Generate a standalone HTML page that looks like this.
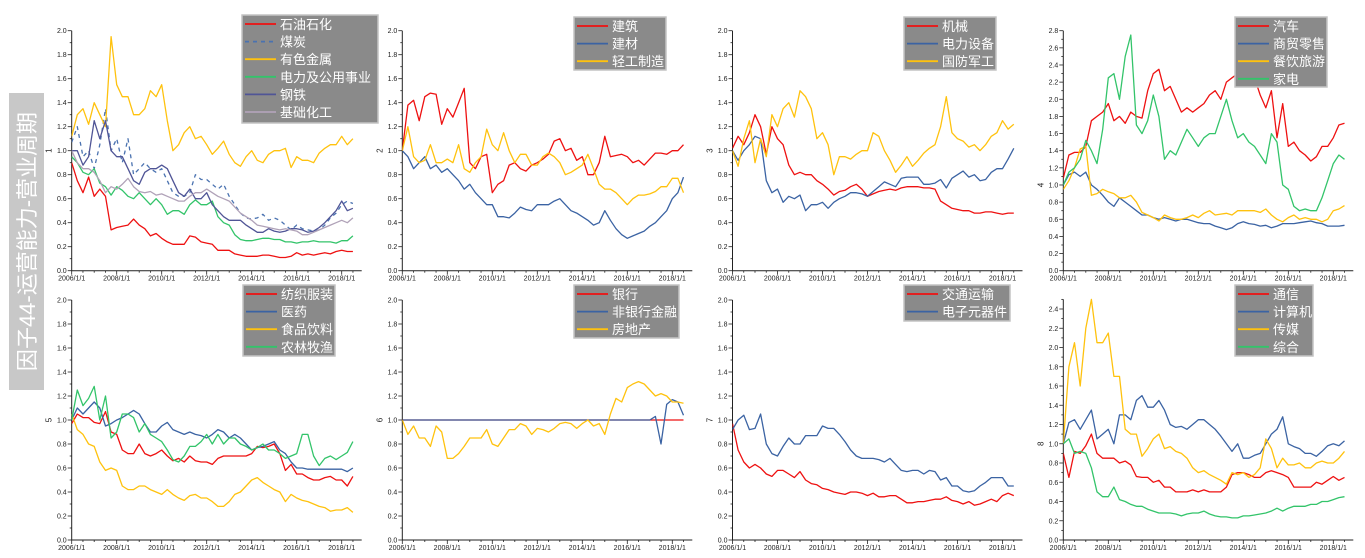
<!DOCTYPE html>
<html><head><meta charset="utf-8">
<style>
html,body{margin:0;padding:0;background:#fff;width:1365px;height:558px;overflow:hidden}
svg{display:block}
text{font-family:"Liberation Sans","Noto Sans CJK SC",sans-serif}
</style></head>
<body>
<svg id="chart" width="1365" height="558" viewBox="0 0 1365 558" xmlns="http://www.w3.org/2000/svg">
<rect x="9" y="93" width="35" height="297" fill="#c8c8c8"/>
<text x="0" y="0" transform="translate(35,241.5) rotate(-90)" text-anchor="middle" font-size="22" fill="#fff" font-family="Liberation Sans, Noto Sans CJK SC, sans-serif">因子44-运营能力-营业周期</text>
</svg>
<script>
// time axis: quarterly samples from 2006.0 to 2018.5
const startYear = 2006, stepYear = 0.25;
const xTickLabels = ["2006/1/1","2008/1/1","2010/1/1","2012/1/1","2014/1/1","2016/1/1","2018/1/1"];
const xTickYears = [2006,2008,2010,2012,2014,2016,2018];
const panelNames = ["1","2","3","4","5","6","7","8"];
const panelYMax = [2,2,2,2.8,2,2,2,2.5];

// Panel 1
const p1_oil = [0.9,0.75,0.65,0.78,0.62,0.68,0.62,0.34,0.36,0.37,0.38,0.43,0.38,0.35,0.29,0.31,0.27,0.24,0.22,0.22,0.22,0.29,0.28,0.24,0.23,0.22,0.17,0.17,0.17,0.14,0.13,0.12,0.12,0.12,0.13,0.13,0.12,0.11,0.11,0.12,0.15,0.13,0.14,0.13,0.14,0.15,0.14,0.16,0.17,0.16,0.16];
const p1_coal = [1.07,1.2,0.95,1.0,0.85,1.05,1.35,1.0,1.1,0.9,1.1,0.8,0.85,0.9,0.85,0.82,0.85,0.75,0.65,0.62,0.62,0.65,0.8,0.76,0.76,0.72,0.68,0.72,0.62,0.55,0.48,0.44,0.43,0.44,0.47,0.42,0.44,0.42,0.38,0.34,0.38,0.35,0.34,0.33,0.34,0.38,0.44,0.48,0.55,0.58,0.56];
const p1_metal = [1.12,1.3,1.35,1.22,1.4,1.3,1.2,1.95,1.55,1.45,1.45,1.3,1.3,1.35,1.5,1.45,1.55,1.25,1.0,1.05,1.15,1.2,1.1,1.12,1.05,0.97,1.02,1.08,0.97,0.9,0.87,0.95,1.0,0.92,0.9,0.97,1.0,1.0,1.02,0.86,0.95,0.92,0.92,0.9,0.98,1.02,1.05,1.05,1.12,1.05,1.1];
const p1_power = [0.95,0.9,0.82,0.8,0.85,0.73,0.7,0.63,0.7,0.67,0.62,0.6,0.65,0.6,0.55,0.6,0.55,0.47,0.5,0.5,0.47,0.55,0.59,0.55,0.55,0.58,0.45,0.4,0.38,0.3,0.26,0.25,0.25,0.26,0.27,0.27,0.26,0.26,0.24,0.24,0.23,0.24,0.24,0.25,0.24,0.24,0.24,0.23,0.25,0.25,0.29];
const p1_steel = [1.0,1.0,0.88,0.95,1.25,1.1,1.25,1.0,0.95,0.95,0.85,0.75,0.72,0.82,0.85,0.85,0.88,0.85,0.75,0.65,0.62,0.68,0.6,0.6,0.65,0.55,0.5,0.45,0.42,0.42,0.42,0.38,0.35,0.32,0.32,0.35,0.33,0.32,0.33,0.35,0.35,0.34,0.32,0.33,0.36,0.4,0.45,0.5,0.58,0.5,0.52];
const p1_chem = [1.0,0.9,0.85,0.85,0.82,0.75,0.65,0.7,0.68,0.72,0.77,0.7,0.66,0.65,0.66,0.63,0.64,0.62,0.6,0.58,0.58,0.62,0.65,0.65,0.68,0.65,0.62,0.6,0.58,0.53,0.48,0.45,0.42,0.38,0.37,0.36,0.35,0.34,0.35,0.34,0.33,0.3,0.3,0.32,0.34,0.36,0.38,0.4,0.42,0.4,0.44];
// Panel 2
const p2_build = [1.0,1.38,1.42,1.25,1.45,1.48,1.47,1.22,1.35,1.28,1.4,1.52,0.9,0.85,0.95,0.97,0.65,0.72,0.75,0.88,0.9,0.85,0.83,0.88,0.9,0.93,0.97,1.08,1.1,1.0,1.02,0.92,0.95,0.8,0.8,0.9,1.12,0.95,0.96,0.97,0.95,0.9,0.92,0.88,0.93,0.98,0.98,0.97,1.0,1.0,1.05];
const p2_mat = [1.0,0.95,0.85,0.9,0.95,0.85,0.88,0.82,0.85,0.8,0.75,0.68,0.72,0.65,0.6,0.55,0.55,0.45,0.45,0.44,0.48,0.53,0.51,0.5,0.55,0.55,0.55,0.58,0.6,0.55,0.5,0.48,0.45,0.42,0.38,0.4,0.5,0.42,0.35,0.3,0.27,0.29,0.31,0.33,0.37,0.4,0.45,0.5,0.6,0.65,0.78];
const p2_light = [1.0,1.2,0.95,0.9,0.92,1.05,0.9,0.9,0.93,0.9,1.05,0.85,0.82,0.9,0.95,1.18,1.05,1.0,1.15,1.0,0.9,0.97,0.97,0.88,0.88,0.95,0.98,0.95,0.9,0.8,0.82,0.85,0.88,0.97,0.85,0.72,0.68,0.68,0.65,0.6,0.55,0.6,0.63,0.63,0.64,0.66,0.7,0.7,0.77,0.77,0.65];
// Panel 3
const p3_mach = [1.02,1.12,1.05,1.15,1.3,1.2,0.97,1.2,1.1,1.05,0.88,0.8,0.82,0.8,0.8,0.75,0.72,0.68,0.63,0.66,0.67,0.7,0.72,0.68,0.62,0.64,0.66,0.67,0.68,0.67,0.69,0.7,0.7,0.7,0.69,0.69,0.68,0.58,0.55,0.52,0.51,0.5,0.5,0.48,0.48,0.49,0.49,0.48,0.47,0.48,0.48];
const p3_elec = [1.0,0.92,1.0,1.05,1.12,1.1,0.75,0.65,0.68,0.57,0.62,0.6,0.63,0.5,0.55,0.55,0.57,0.52,0.57,0.6,0.62,0.65,0.65,0.64,0.62,0.66,0.7,0.74,0.72,0.7,0.77,0.78,0.78,0.78,0.72,0.72,0.73,0.76,0.69,0.77,0.8,0.83,0.78,0.8,0.75,0.76,0.82,0.85,0.85,0.93,1.02];
const p3_def = [1.0,0.87,1.1,1.25,0.9,1.1,0.95,1.3,1.2,1.35,1.4,1.28,1.5,1.45,1.35,1.1,1.15,1.05,0.8,0.95,0.95,0.93,0.97,1.0,1.0,1.15,1.12,1.0,0.92,0.82,0.88,0.95,0.87,0.92,0.98,1.02,1.05,1.2,1.45,1.15,1.1,1.08,1.03,1.05,1.0,1.05,1.12,1.15,1.25,1.18,1.22];
// Panel 4
const p4_auto = [1.08,1.35,1.38,1.38,1.45,1.75,1.8,1.85,1.95,1.75,1.8,1.72,1.85,1.8,1.78,2.1,2.3,2.35,2.1,2.15,2.0,1.85,1.9,1.85,1.9,1.95,2.05,2.1,2.0,2.2,2.25,2.3,2.4,2.3,2.25,2.05,1.9,2.1,1.55,1.95,1.45,1.5,1.4,1.35,1.28,1.33,1.45,1.45,1.55,1.7,1.72];
const p4_retail = [1.0,1.12,1.15,1.1,1.15,1.0,0.95,0.88,0.8,0.75,0.85,0.8,0.75,0.7,0.65,0.65,0.62,0.6,0.62,0.6,0.58,0.6,0.6,0.58,0.56,0.55,0.55,0.52,0.5,0.48,0.5,0.55,0.57,0.55,0.54,0.52,0.53,0.5,0.52,0.55,0.55,0.55,0.56,0.57,0.58,0.56,0.55,0.52,0.52,0.52,0.53];
const p4_travel = [0.95,1.05,1.2,1.42,1.45,0.88,0.9,0.95,0.92,0.9,0.85,0.85,0.88,0.8,0.68,0.65,0.62,0.58,0.65,0.62,0.6,0.6,0.62,0.65,0.62,0.67,0.7,0.65,0.66,0.67,0.65,0.7,0.7,0.7,0.7,0.68,0.72,0.65,0.6,0.57,0.62,0.65,0.6,0.62,0.6,0.6,0.57,0.6,0.7,0.72,0.76];
const p4_appl = [1.0,1.15,1.2,1.3,1.52,1.4,1.25,1.65,2.25,2.3,2.0,2.5,2.75,1.7,1.6,1.75,2.05,1.8,1.3,1.4,1.35,1.5,1.65,1.55,1.45,1.55,1.6,1.6,1.8,2.0,1.75,1.55,1.6,1.5,1.45,1.35,1.25,1.6,1.5,1.0,0.95,0.75,0.7,0.72,0.7,0.7,0.85,1.05,1.25,1.35,1.3];
// Panel 5
const p5_text = [0.97,1.05,1.02,1.02,0.98,0.97,1.07,0.9,0.88,0.75,0.72,0.72,0.8,0.72,0.7,0.72,0.75,0.7,0.66,0.68,0.65,0.7,0.66,0.65,0.65,0.63,0.68,0.7,0.7,0.7,0.7,0.7,0.72,0.78,0.77,0.78,0.8,0.72,0.58,0.63,0.55,0.55,0.52,0.5,0.5,0.52,0.53,0.5,0.5,0.45,0.53];
const p5_pharm = [1.0,1.1,1.05,1.1,1.15,1.1,0.95,0.97,1.0,1.02,1.05,1.08,1.05,0.97,0.9,0.9,0.95,0.98,0.92,0.9,0.88,0.9,0.88,0.87,0.85,0.88,0.92,0.9,0.85,0.88,0.85,0.8,0.75,0.77,0.78,0.8,0.82,0.75,0.72,0.65,0.6,0.6,0.59,0.59,0.59,0.59,0.59,0.59,0.59,0.57,0.6];
const p5_food = [1.05,0.92,0.88,0.8,0.78,0.65,0.58,0.6,0.58,0.45,0.42,0.42,0.45,0.45,0.42,0.4,0.38,0.42,0.38,0.35,0.33,0.37,0.38,0.35,0.35,0.32,0.28,0.28,0.32,0.38,0.4,0.45,0.5,0.52,0.48,0.45,0.42,0.4,0.32,0.38,0.35,0.33,0.32,0.3,0.28,0.27,0.24,0.25,0.25,0.27,0.23];
const p5_agri = [1.0,1.25,1.12,1.18,1.28,1.0,1.2,0.85,0.9,1.05,1.05,1.02,0.9,0.97,0.88,0.85,0.82,0.75,0.67,0.65,0.7,0.78,0.78,0.82,0.88,0.8,0.88,0.8,0.85,0.85,0.8,0.78,0.75,0.77,0.8,0.75,0.75,0.72,0.68,0.7,0.72,0.88,0.88,0.7,0.62,0.68,0.7,0.67,0.7,0.73,0.82];
// Panel 6
const p6_bank = [1,1,1,1,1,1,1,1,1,1,1,1,1,1,1,1,1,1,1,1,1,1,1,1,1,1,1,1,1,1,1,1,1,1,1,1,1,1,1,1,1,1,1,1,1,1,1,1,1,1,1];
const p6_nonbank = [1,1,1,1,1,1,1,1,1,1,1,1,1,1,1,1,1,1,1,1,1,1,1,1,1,1,1,1,1,1,1,1,1,1,1,1,1,1,1,1,1,1,1,1,1,1.03,0.8,1.13,1.17,1.15,1.04];
const p6_estate = [1.0,0.88,0.95,0.85,0.85,0.78,0.95,0.9,0.68,0.68,0.72,0.78,0.85,0.85,0.85,0.92,0.8,0.78,0.85,0.92,0.92,0.97,0.95,0.88,0.93,0.92,0.9,0.93,0.97,0.98,0.97,0.93,0.97,1.0,0.95,0.97,0.88,1.05,1.18,1.15,1.27,1.3,1.32,1.3,1.25,1.2,1.22,1.2,1.15,1.15,1.14];
// Panel 7
const p7_trans = [0.97,0.75,0.65,0.6,0.63,0.6,0.55,0.53,0.58,0.58,0.55,0.52,0.57,0.5,0.47,0.46,0.43,0.42,0.4,0.39,0.38,0.4,0.4,0.39,0.37,0.39,0.36,0.36,0.37,0.37,0.34,0.31,0.31,0.32,0.32,0.33,0.34,0.34,0.36,0.33,0.32,0.3,0.32,0.29,0.3,0.32,0.34,0.32,0.37,0.39,0.37];
const p7_elec = [0.92,1.0,1.04,0.92,0.93,1.05,0.8,0.72,0.7,0.78,0.85,0.8,0.8,0.87,0.87,0.87,0.95,0.93,0.93,0.88,0.82,0.75,0.7,0.68,0.68,0.68,0.67,0.65,0.68,0.63,0.58,0.57,0.58,0.58,0.55,0.58,0.57,0.5,0.52,0.45,0.45,0.41,0.4,0.41,0.45,0.48,0.52,0.52,0.52,0.45,0.45];
// Panel 8
const p8_tele = [0.9,0.65,0.92,0.9,0.98,1.1,0.9,0.85,0.85,0.85,0.8,0.82,0.78,0.66,0.65,0.65,0.6,0.62,0.55,0.55,0.5,0.5,0.5,0.52,0.5,0.52,0.5,0.5,0.5,0.55,0.68,0.7,0.7,0.68,0.65,0.65,0.7,0.72,0.7,0.68,0.65,0.55,0.55,0.55,0.55,0.6,0.58,0.62,0.66,0.62,0.65];
const p8_comp = [1.0,1.22,1.25,1.15,1.25,1.35,1.05,1.1,1.15,1.0,1.3,1.3,1.25,1.45,1.5,1.38,1.38,1.45,1.35,1.2,1.17,1.18,1.15,1.2,1.25,1.25,1.2,1.15,1.08,1.0,0.92,1.0,0.85,0.85,0.88,0.9,1.0,1.1,1.15,1.28,1.0,0.97,0.95,0.9,0.9,0.87,0.92,0.98,1.0,0.98,1.03];
const p8_media = [1.0,1.8,2.05,1.6,2.2,2.5,2.05,2.05,2.15,1.7,1.7,1.15,1.1,1.1,0.87,0.95,1.05,1.1,0.95,0.97,0.92,0.9,0.85,0.75,0.7,0.72,0.68,0.65,0.62,0.58,0.7,0.68,0.7,0.65,0.68,0.75,1.05,0.95,0.75,0.85,0.78,0.78,0.8,0.75,0.75,0.8,0.82,0.8,0.8,0.85,0.92];
const p8_misc = [1.0,1.05,0.9,0.92,0.9,0.75,0.5,0.45,0.45,0.55,0.42,0.4,0.37,0.35,0.35,0.32,0.3,0.28,0.28,0.28,0.27,0.25,0.27,0.28,0.28,0.3,0.27,0.25,0.24,0.24,0.23,0.23,0.25,0.25,0.26,0.27,0.28,0.3,0.33,0.3,0.33,0.35,0.35,0.35,0.37,0.37,0.4,0.4,0.42,0.44,0.45];

const RED="#ee1111",BLUE="#3b63a3",YEL="#ffc20e",GRN="#33c46a";
const panels = [
 {series:[["石油石化",p1_oil,RED,""],["煤炭",p1_coal,"#4a72b0","4,4"],["有色金属",p1_metal,YEL,""],["电力及公用事业",p1_power,GRN,""],["钢铁",p1_steel,"#505596",""],["基础化工",p1_chem,"#b0a2b8",""]],leg:[242,15,136,108]},
 {series:[["建筑",p2_build,RED,""],["建材",p2_mat,BLUE,""],["轻工制造",p2_light,YEL,""]],leg:[574,17,92,53]},
 {series:[["机械",p3_mach,RED,""],["电力设备",p3_elec,BLUE,""],["国防军工",p3_def,YEL,""]],leg:[904,17,92,53]},
 {series:[["汽车",p4_auto,RED,""],["商贸零售",p4_retail,BLUE,""],["餐饮旅游",p4_travel,YEL,""],["家电",p4_appl,GRN,""]],leg:[1235,17,92,70]},
 {series:[["纺织服装",p5_text,RED,""],["医药",p5_pharm,BLUE,""],["食品饮料",p5_food,YEL,""],["农林牧渔",p5_agri,GRN,""]],leg:[243,285,92,71]},
 {series:[["银行",p6_bank,RED,""],["非银行金融",p6_nonbank,BLUE,""],["房地产",p6_estate,YEL,""]],leg:[574,285,105,53]},
 {series:[["交通运输",p7_trans,RED,""],["电子元器件",p7_elec,BLUE,""]],leg:[904,285,106,36]},
 {series:[["通信",p8_tele,RED,""],["计算机",p8_comp,BLUE,""],["传媒",p8_media,YEL,""],["综合",p8_misc,GRN,""]],leg:[1235,285,78,71]}
];
const NS="http://www.w3.org/2000/svg";
const svg=document.getElementById('chart');
function mk(tag,attrs,parent){const e=document.createElementNS(NS,tag);for(const k in attrs)e.setAttribute(k,attrs[k]);(parent||svg).appendChild(e);return e;}
const colX=[71.7,402.3,732.5,1063.3], rowTop=[30.7,300], rowBot=[270.7,540];
const pxPerYear=22.5, axisLen=290;
panels.forEach((p,i)=>{
  const col=i%4,row=Math.floor(i/4);
  const x0=colX[col], yb=rowBot[row], ymax=panelYMax[i];
  const yUnit=(rowBot[row]-rowTop[row])/(ymax===2.5?2.4/ (2.4/2.5)*1:ymax);
  const ys = ymax===2.5 ? (rowBot[row]-309)/2.4 : (rowBot[row]-rowTop[row])/ymax;
  const xS=y=>x0+(y-startYear)*pxPerYear;
  const yS=v=>yb-Math.min(v,ymax)*ys;
  const g=mk('g',{});
  
  
  const clip=mk('clipPath',{id:'c'+i},g);
  mk('rect',{x:x0,y:yS(ymax)-1,width:axisLen,height:yb-yS(ymax)+1},clip);
  // axes
  const ax=mk('path',{d:`M${x0},${yS(ymax)}V${yb}H${x0+axisLen}`,stroke:'#222','stroke-width':1,fill:'none'},g);
  
  
  // y ticks
  for(let k=0;k<=Math.round(ymax*10);k++){
    const v=k/10, y=yS(v), major=k%2===0;
    mk('line',{x1:x0-(major?4:2),x2:x0,y1:y,y2:y,stroke:'#222','stroke-width':0.8},g);
    if(major){const t=mk('text',{x:x0-5,y:y+2.5,'text-anchor':'end','font-size':7,fill:'#222'},g);t.textContent=v.toFixed(1);
      
      }
  }
  // x ticks
  for(let yr=2006;yr<=2018.75;yr+=0.5){const x=xS(yr);mk('line',{x1:x,x2:x,y1:yb,y2:yb+(yr%2===0?4:2),stroke:'#222','stroke-width':0.8},g);}
  xTickYears.forEach((yr,k)=>{const t=mk('text',{x:xS(yr),y:yb+10,'text-anchor':'middle','font-size':7,fill:'#222'},g);t.textContent=xTickLabels[k];
    
    });
  const at=mk('text',{transform:`translate(${x0-20},${yS(1)}) rotate(-90)`,'text-anchor':'middle','font-size':8,fill:'#222'},g);
  at.textContent=panelNames[i];
  
  
  // series
  p.series.forEach(s=>{
    const d=s[1].map((v,k)=>(k?'L':'M')+xS(startYear+k*stepYear).toFixed(1)+','+yS(v).toFixed(1)).join('');
    const a={d:d,stroke:s[2],'stroke-width':1.3,fill:'none','clip-path':`url(#c${i})`,'stroke-linejoin':'round'};
    if(s[3])a['stroke-dasharray']=s[3];
    const pth=mk('path',a,g);
    
    
  });
  // legend
  const L=p.leg;
  const lg=mk('g',{},g);
  
  
  mk('rect',{x:L[0],y:L[1],width:L[2],height:L[3],fill:'#8a8a8a',stroke:'#c4c4c4','stroke-width':1.5},lg);
  p.series.forEach((s,k)=>{
    const y=L[1]+9+k*17.6;
    const a={x1:L[0]+3,x2:L[0]+34,y1:y,y2:y,stroke:s[2],'stroke-width':1.8};
    if(s[3])a['stroke-dasharray']=s[3];
    mk('line',a,lg);
    const t=mk('text',{x:L[0]+38,y:y+5,'font-size':13,fill:'#fff'},lg);
    t.textContent=s[0];
    
    
  });
});
</script>
</body></html>
